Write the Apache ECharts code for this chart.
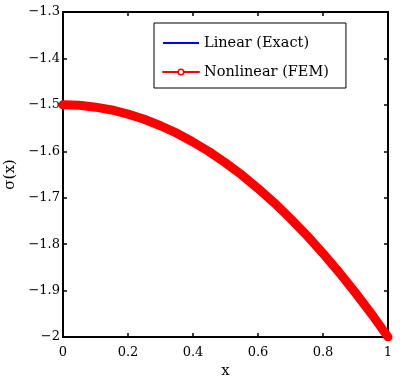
<!DOCTYPE html>
<html><head><meta charset="utf-8">
<script src="https://cdn.jsdelivr.net/npm/echarts@6/dist/echarts.min.js"></script>
<style>html,body{margin:0;padding:0;background:#fff}#c{width:400px;height:380px}</style>
</head><body><div id="c"></div>
<script>
var xs = [0,0.05,0.1,0.15,0.2,0.25,0.3,0.35,0.4,0.45,0.5,0.55,0.6,0.65,0.7,0.75,0.8,0.85,0.9,0.95,1];
var linearExact = [-1.5,-1.501,-1.505,-1.511,-1.52,-1.531,-1.545,-1.561,-1.58,-1.601,-1.625,-1.651,-1.68,-1.711,-1.745,-1.781,-1.82,-1.861,-1.905,-1.951,-2];
var nonlinearFEM = [-1.5,-1.501,-1.505,-1.511,-1.52,-1.531,-1.545,-1.561,-1.58,-1.601,-1.625,-1.651,-1.68,-1.711,-1.745,-1.781,-1.82,-1.861,-1.905,-1.951,-2];
var xTicks = [0,0.2,0.4,0.6,0.8,1];
var yTicks = [-2,-1.9,-1.8,-1.7,-1.6,-1.5,-1.4,-1.3];
var seriesNames = ['Linear (Exact)','Nonlinear (FEM)'];

var FONT = 'DejaVu Serif';
function fmt(v){ return String(+v.toFixed(2)).replace('-', '\u2212'); }
function pairs(ys){ return xs.map(function(x,i){ return [x, ys[i]]; }); }

var chart = echarts.init(document.getElementById('c'));
chart.setOption({
  animation:false,
  textStyle:{fontFamily:FONT},
  grid:{left:63,right:12,top:12,bottom:43,show:true,borderColor:'#000',borderWidth:2,
        containLabel:false, outerBoundsMode:'none'},
  legend:{
    orient:'vertical', left:154, top:23,
    data:[
      {name:seriesNames[0], icon:'path://M0,0H36V2H0Z', itemStyle:{color:'#00f'}},
      {name:seriesNames[1], itemStyle:{color:'#fff',borderColor:'#f00',borderWidth:1.5}}
    ],
    backgroundColor:'#fff', borderColor:'#000', borderWidth:1,
    padding:[11,17,7,8], itemGap:11, itemWidth:36, itemHeight:7,
    textStyle:{fontFamily:FONT, fontSize:14.5, color:'#000', lineHeight:18}
  },
  xAxis:[{
    type:'value', min:0, max:1, interval:0.2,
    name:'x', nameLocation:'middle', nameGap:24,
    nameTextStyle:{fontFamily:FONT, fontSize:15, color:'#000'},
    axisLine:{show:true, onZero:false, lineStyle:{color:'#000',width:2}},
    axisTick:{inside:true, length:4, lineStyle:{color:'#000',width:1.5}},
    axisLabel:{formatter:fmt, fontFamily:FONT, fontSize:13, color:'#000', margin:9},
    splitLine:{show:false}
  },{
    type:'value', position:'top', min:0, max:1, interval:0.2,
    axisLine:{show:true, onZero:false, lineStyle:{color:'#000',width:2}},
    axisTick:{inside:true, length:4, lineStyle:{color:'#000',width:1.5}},
    axisLabel:{show:false}, splitLine:{show:false}
  }],
  yAxis:[{
    type:'value', min:-2, max:-1.3, interval:0.1,
    name:'\u03c3(x)', nameLocation:'middle', nameGap:42, nameRotate:90,
    nameTextStyle:{fontFamily:FONT, fontSize:15, color:'#000'},
    axisLine:{show:true, onZero:false, lineStyle:{color:'#000',width:2}},
    axisTick:{inside:true, length:4, lineStyle:{color:'#000',width:1.5}},
    axisLabel:{formatter:fmt, fontFamily:FONT, fontSize:13, color:'#000', margin:3},
    splitLine:{show:false}
  },{
    type:'value', position:'right', min:-2, max:-1.3, interval:0.1,
    axisLine:{show:true, onZero:false, lineStyle:{color:'#000',width:2}},
    axisTick:{inside:true, length:4, lineStyle:{color:'#000',width:1.5}},
    axisLabel:{show:false}, splitLine:{show:false}
  }],
  series:[{
    name:seriesNames[0], type:'line', data:pairs(linearExact),
    symbol:'none', lineStyle:{color:'#00f', width:2}, itemStyle:{color:'#00f'}, z:2
  },{
    name:seriesNames[1], type:'line', data:pairs(nonlinearFEM),
    symbol:'circle', symbolSize:7, showSymbol:true,
    lineStyle:{color:'#f00', width:9, cap:'round', join:'round'}, itemStyle:{color:'#f00'}, z:3
  }]
});
</script></body></html>
